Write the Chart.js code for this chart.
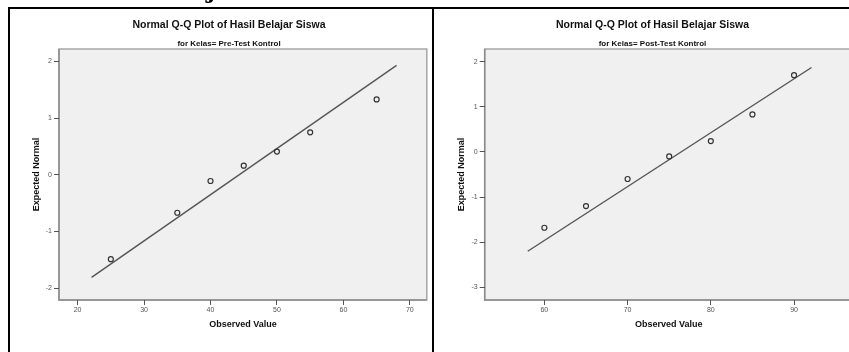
<!DOCTYPE html>
<html>
<head>
<meta charset="utf-8">
<script src="https://cdn.jsdelivr.net/npm/chart.js"></script>
<style>
  body { margin: 0; background: #fff; width: 849px; height: 352px; overflow: hidden; position: relative; }
  .panel { position: absolute; top: 0; height: 352px; }
  #leftPanel { left: 0; width: 432px; }
  #rightPanel { left: 434px; width: 424px; }
  .rule { position: absolute; background: #000; }
  #cut { position: absolute; left: 207px; top: -21px; font: bold 22px "DejaVu Serif", serif; line-height: 22px; color: #000; }
</style>
</head>
<body>
<div class="panel" id="leftPanel"><canvas id="preChart"></canvas></div>
<div class="panel" id="rightPanel"><canvas id="postChart"></canvas></div>
<div class="rule" style="left:8px;top:7px;width:841px;height:2px"></div>
<div class="rule" style="left:8px;top:7px;width:2px;height:345px"></div>
<div class="rule" style="left:432px;top:7px;width:2px;height:345px"></div>
<div id="cut">j</div>
<script>
// Pre-Test Kontrol
const preObserved = [25, 35, 40, 45, 50, 55, 65];
const preExpected = [-1.49, -0.67, -0.11, 0.16, 0.41, 0.75, 1.33];
const preLineX = [22.1, 68.0];
const preLineY = [-1.81, 1.93];
const preXTicks = [20, 30, 40, 50, 60, 70];
const preYTicks = [-2, -1, 0, 1, 2];

// Post-Test Kontrol
const postObserved = [60, 65, 70, 75, 80, 85, 90];
const postExpected = [-1.68, -1.2, -0.6, -0.1, 0.24, 0.83, 1.7];
const postLineX = [58.0, 92.1];
const postLineY = [-2.2, 1.87];
const postXTicks = [60, 70, 80, 90];
const postYTicks = [-3, -2, -1, 0, 1, 2];

const FONT = "'Liberation Sans', Arial, sans-serif";

// grey plot background + frame
const plotBox = {
  id: "plotBox",
  beforeDraw(chart) {
    const a = chart.chartArea;
    const ctx = chart.ctx;
    ctx.save();
    ctx.fillStyle = "#f0f0f0";
    ctx.fillRect(a.left, a.top, a.width, a.height);
    ctx.strokeStyle = "#a6a6a6";
    ctx.lineWidth = 1.5;
    ctx.strokeRect(a.left, a.top, a.width, a.height);
    // left and bottom edges a bit darker
    ctx.strokeStyle = "#8c8c8c";
    ctx.beginPath();
    ctx.moveTo(a.left, a.top);
    ctx.lineTo(a.left, a.bottom);
    ctx.lineTo(a.right, a.bottom);
    ctx.stroke();
    ctx.restore();
  },
};

function qqChart(id, subtitle, xs, ys, lineX, lineY, xRange, yRange, xTicks, yTicks, pad, yWidth, yTitlePad) {
  new Chart(document.getElementById(id), {
    type: "scatter",
    data: {
      datasets: [
        {
          data: xs.map((x, i) => ({ x: x, y: ys[i] })),
          pointRadius: 2.5,
          pointBorderWidth: 1.2,
          borderColor: "#333",
          backgroundColor: "rgba(0,0,0,0)",
        },
        {
          data: lineX.map((x, i) => ({ x: x, y: lineY[i] })),
          showLine: true,
          pointRadius: 0,
          borderWidth: 1.4,
          borderColor: "#555",
        },
      ],
    },
    options: {
      responsive: true,
      maintainAspectRatio: false,
      animation: false,
      layout: { padding: { left: pad.left, right: pad.right, top: 0, bottom: 21.6 } },
      plugins: {
        legend: { display: false },
        tooltip: { enabled: false },
        title: {
          display: true,
          text: "Normal Q-Q Plot of Hasil Belajar Siswa",
          color: "#111",
          font: { family: FONT, size: 10.5, weight: "bold" },
          padding: { top: 18.7, bottom: 0 },
        },
        subtitle: {
          display: true,
          text: subtitle,
          color: "#111",
          font: { family: FONT, size: 8, weight: "bold" },
          padding: { top: 7.9, bottom: 0.2 },
        },
      },
      scales: {
        x: {
          type: "linear",
          min: xRange[0],
          max: xRange[1],
          afterBuildTicks: (s) => { s.ticks = xTicks.map((v) => ({ value: v })); },
          afterFit: (s) => { s.height = 30.4; },
          grid: { drawOnChartArea: false, drawTicks: true, tickLength: 5, color: "#555" },
          border: { display: false },
          ticks: { color: "#555", padding: 1, font: { family: FONT, size: 7 } },
          title: {
            display: true,
            text: "Observed Value",
            color: "#111",
            font: { family: FONT, size: 9, weight: "bold" },
            padding: { top: 0, bottom: 0 },
          },
        },
        y: {
          type: "linear",
          min: yRange[0],
          max: yRange[1],
          afterBuildTicks: (s) => { s.ticks = yTicks.map((v) => ({ value: v })); },
          afterFit: (s) => { s.width = yWidth; },
          grid: { drawOnChartArea: false, drawTicks: true, tickLength: 5, color: "#555" },
          border: { display: false },
          ticks: { color: "#555", padding: 2, font: { family: FONT, size: 7 } },
          title: {
            display: true,
            text: "Expected Normal",
            color: "#111",
            font: { family: FONT, size: 9, weight: "bold" },
            padding: { top: yTitlePad, bottom: 0 },
          },
        },
      },
    },
    plugins: [plotBox],
  });
}

qqChart("preChart", "for Kelas= Pre-Test Kontrol", preObserved, preExpected, preLineX, preLineY,
  [17.2, 72.55], [-2.21, 2.22], preXTicks, preYTicks, { left: 27, right: 1 }, 32, 4.3);

qqChart("postChart", "for Kelas= Post-Test Kontrol", postObserved, postExpected, postLineX, postLineY,
  [52.83, 97.06], [-3.28, 2.28], postXTicks, postYTicks, { left: 14.3, right: 1.3 }, 36.4, 7.6);
</script>
</body>
</html>
